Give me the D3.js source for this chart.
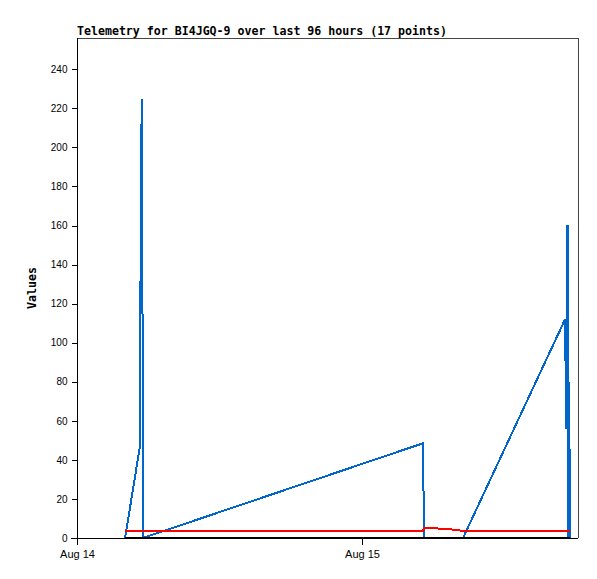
<!DOCTYPE html>
<html><head><meta charset="utf-8">
<script src="https://cdn.jsdelivr.net/npm/d3@7"></script>
<style>body{margin:0;background:#fff}</style>
</head><body>
<svg id="c" width="597" height="579"></svg>
<script>
const titleText = "Telemetry for BI4JGQ-9 over last 96 hours (17 points)";
const yLabel = "Values";
const times = ["2023-08-14T04:03","2023-08-14T05:18","2023-08-14T05:23","2023-08-14T05:28","2023-08-14T05:31","2023-08-14T05:33",
  "2023-08-15T05:08","2023-08-15T05:13","2023-08-15T06:04","2023-08-15T07:40","2023-08-15T08:30",
  "2023-08-15T17:06","2023-08-15T17:11","2023-08-15T17:18","2023-08-15T17:21","2023-08-15T17:26","2023-08-15T17:31"];
const blueValues = [0, 47, 193, 225, 112, 0, 48.5, 0, 0, 0, 0, 112, 56, 160, 0, 80, 0];
const redValues = [3.6, 3.6, 3.6, 3.6, 3.6, 3.6, 3.6, 5, 5, 4.3, 3.6, 3.6, 3.6, 3.6, 3.6, 3.6, 3.6];
const blackValues = [0, 0, 0, 0, 0, 0, 0, 0, 0, 0, 0, 0, 0, 0, 0, 0, 0];
const xDomain = ["2023-08-14T00:00", "2023-08-15T18:11"];
const xTicks = ["2023-08-14T00:00", "2023-08-15T00:00"];
const yTicks = [0,20,40,60,80,100,120,140,160,180,200,220,240];
const yMax = 256;

const parse = d3.timeParse("%Y-%m-%dT%H:%M");
const T = times.map(parse);
const L = 77, R = 578, Tp = 38, B = 538;
const svg = d3.select("#c");
const x = d3.scaleTime().domain(xDomain.map(parse)).range([L, R]);
const y = d3.scaleLinear().domain([0, yMax]).range([B, Tp]);

// frame top/right
svg.append("path").attr("d", `M${L},${Tp+0.5}H${R+0.5}V${B}`).attr("fill","none").attr("stroke","#444").attr("stroke-width",1).attr("shape-rendering","crispEdges");

const line = d3.line().x((d,i)=>x(T[i])).y(d=>y(d));
svg.append("path").datum(blueValues).attr("d", line).attr("fill","none").attr("stroke","#0066cc").attr("stroke-width",2).attr("shape-rendering","crispEdges");
svg.append("path").datum(redValues).attr("d", line).attr("fill","none").attr("stroke","#ff0000").attr("stroke-width",2).attr("shape-rendering","crispEdges");
svg.append("path").datum(blackValues).attr("d", line).attr("fill","none").attr("stroke","#000").attr("stroke-width",2).attr("shape-rendering","crispEdges");

// y axis
const ya = svg.append("g").attr("transform", `translate(${L+0.5},0)`)
  .call(d3.axisLeft(y).tickValues(yTicks).tickSize(6).tickPadding(4).tickSizeOuter(0));
ya.select(".domain").attr("d", `M0,${Tp}V${B+6}`).attr("stroke","#000");
ya.selectAll("line,path").attr("shape-rendering","crispEdges");
ya.selectAll("text").attr("font-family","Liberation Sans, Arial, sans-serif").attr("font-size","10px").attr("fill","#000");

// x axis
const xa = svg.append("g").attr("transform", `translate(0,${B+0.5})`)
  .call(d3.axisBottom(x).tickValues(xTicks.map(parse)).tickFormat(d3.timeFormat("%b %d")).tickSize(6).tickPadding(6).tickSizeOuter(0));
xa.select(".domain").attr("d", `M${L-6},0H${R}`).attr("stroke","#000");
xa.selectAll("line,path").attr("shape-rendering","crispEdges");
xa.selectAll("text").attr("font-family","Liberation Sans, Arial, sans-serif").attr("font-size","11px").attr("fill","#000");

svg.append("text").attr("x", L).attr("y", 35).text(titleText)
  .attr("font-family","DejaVu Sans Mono, monospace").attr("font-weight","bold").attr("font-size","11.6px");
svg.append("text").attr("transform", `translate(36,${(Tp+B)/2}) rotate(-90)`).attr("text-anchor","middle").text(yLabel)
  .attr("font-family","DejaVu Sans Mono, monospace").attr("font-weight","bold").attr("font-size","11.6px");
</script>
</body></html>
